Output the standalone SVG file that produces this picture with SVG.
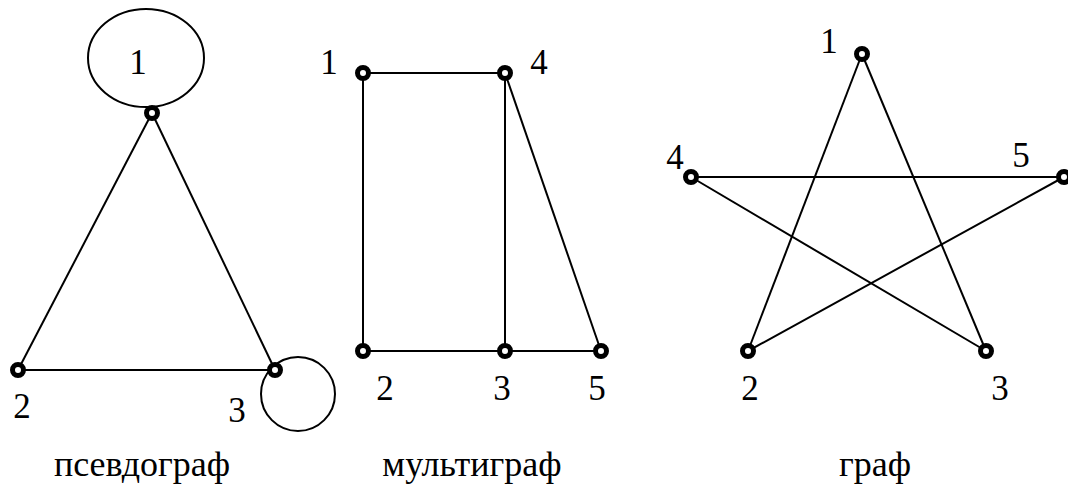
<svg xmlns="http://www.w3.org/2000/svg" width="1068" height="485" viewBox="0 0 1068 485">
<style>
.e{stroke:#000;stroke-width:2;fill:none}
.n{fill:#fff;stroke:#000;stroke-width:5}
.t{font-family:'Liberation Serif','Times New Roman','DejaVu Serif',serif;font-size:35px;fill:#000;text-anchor:middle}
.cap{font-size:36px}
</style>
<rect width="1068" height="485" fill="#fff"/>
<g id="connectors">
<ellipse class="e" cx="146" cy="58" rx="58" ry="49"/>
<circle class="e" cx="298" cy="394" r="37"/>
<line class="e" x1="152" y1="113" x2="18" y2="370"/>
<line class="e" x1="152" y1="113" x2="275" y2="370"/>
<line class="e" x1="18" y1="370" x2="275" y2="370"/>
<line class="e" x1="363" y1="73" x2="505" y2="73"/>
<line class="e" x1="363" y1="73" x2="363" y2="351"/>
<line class="e" x1="505" y1="73" x2="505" y2="351"/>
<line class="e" x1="505" y1="73" x2="601" y2="351"/>
<line class="e" x1="363" y1="351" x2="601" y2="351"/>
<line class="e" x1="862" y1="54" x2="748" y2="351"/>
<line class="e" x1="862" y1="54" x2="986" y2="351"/>
<line class="e" x1="691" y1="177" x2="1064" y2="177"/>
<line class="e" x1="691" y1="177" x2="986" y2="351"/>
<line class="e" x1="1064" y1="177" x2="748" y2="351"/>
</g>
<g id="pseudograph">
<g id="p1"><circle class="n" cx="152" cy="113" r="5.5"/><text class="t" x="138" y="74">1</text></g>
<g id="p2"><circle class="n" cx="18" cy="370" r="5.5"/><text class="t" x="22" y="418">2</text></g>
<g id="p3"><circle class="n" cx="275" cy="370" r="5.5"/><text class="t" x="237" y="422">3</text></g>
<text id="pseudograph-label" class="t cap" x="142" y="476">псевдограф</text>
</g>
<g id="multigraph">
<g id="m1"><circle class="n" cx="363" cy="73" r="5.5"/><text class="t" x="329" y="74">1</text></g>
<g id="m4"><circle class="n" cx="505" cy="73" r="5.5"/><text class="t" x="539" y="74">4</text></g>
<g id="m2"><circle class="n" cx="363" cy="351" r="5.5"/><text class="t" x="385" y="400">2</text></g>
<g id="m3"><circle class="n" cx="505" cy="351" r="5.5"/><text class="t" x="502" y="400">3</text></g>
<g id="m5"><circle class="n" cx="601" cy="351" r="5.5"/><text class="t" x="597" y="400">5</text></g>
<text id="multigraph-label" class="t cap" x="472" y="476">мультиграф</text>
</g>
<g id="graph">
<g id="g1"><circle class="n" cx="862" cy="54" r="5.5"/><text class="t" x="829" y="53">1</text></g>
<g id="g4"><circle class="n" cx="691" cy="177" r="5.5"/><text class="t" x="675" y="169">4</text></g>
<g id="g5"><circle class="n" cx="1064" cy="177" r="5.5"/><text class="t" x="1021" y="167">5</text></g>
<g id="g2"><circle class="n" cx="748" cy="351" r="5.5"/><text class="t" x="750" y="400">2</text></g>
<g id="g3"><circle class="n" cx="986" cy="351" r="5.5"/><text class="t" x="1000" y="400">3</text></g>
<text id="graph-label" class="t cap" x="875" y="476">граф</text>
</g>
</svg>
